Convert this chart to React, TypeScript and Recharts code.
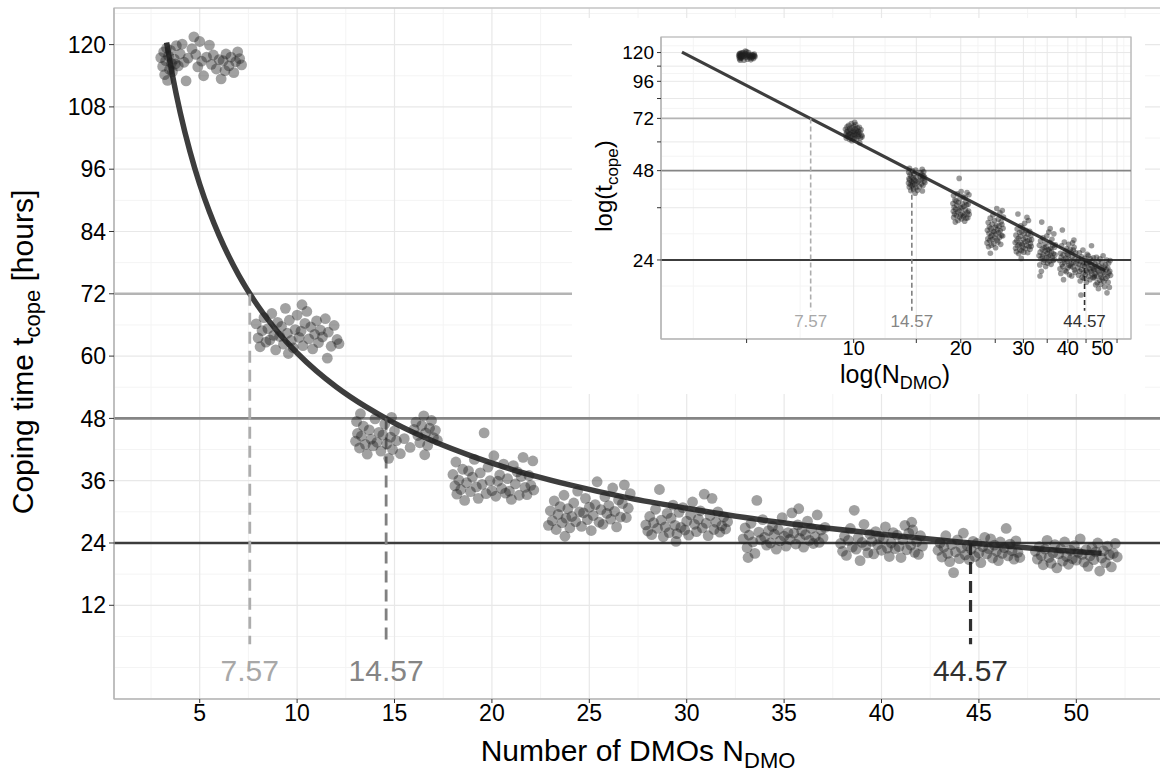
import React from 'react';
import {
  ComposedChart, Scatter, Line, XAxis, YAxis, CartesianGrid,
  ReferenceLine, ReferenceDot, ReferenceArea,
} from 'recharts';

// ---------- data ----------
const GROUP_N = [5, 10, 15, 20, 25, 30, 35, 40, 45, 50];

// [horizontal jitter, coping time] read from each cluster
const G5 = [[-2.0,117.5],[-1.9,115.8],[-1.85,118.6],[-1.8,114.2],[-1.75,116.9],[-1.7,119.3],[-1.65,113.1],[-1.6,117.8],[-1.55,115.2],[-1.5,118.9],[-1.45,116.4],[-1.4,114.8],[-1.3,117.2],[-1.2,119.8],[-1.1,115.9],[-1.0,118.2],[-0.9,120.1],[-0.8,116.6],[-0.7,113.0],[-0.6,117.4],[-0.4,119.2],[-0.3,121.5],[-0.2,118.1],[-0.1,115.7],[0.0,120.6],[0.1,116.8],[0.2,114.0],[0.35,117.6],[0.5,119.9],[0.6,116.2],[0.7,118.0],[0.85,115.3],[1.0,117.1],[1.1,113.4],[1.2,116.9],[1.35,118.2],[1.5,115.9],[1.6,117.6],[1.75,114.6],[1.85,116.7],[1.95,118.6],[2.05,117.3],[2.15,116.1],[1.3,115.0],[-1.25,116.3]];
const G10 = [[-2.1,66.2],[-2.0,63.5],[-1.9,61.8],[-1.8,64.9],[-1.7,67.4],[-1.6,62.7],[-1.5,65.3],[-1.4,63.1],[-1.3,68.2],[-1.2,64.0],[-1.1,61.2],[-1.0,66.5],[-0.9,63.8],[-0.8,65.7],[-0.7,62.3],[-0.6,69.2],[-0.5,64.4],[-0.4,66.9],[-0.3,63.0],[-0.2,61.6],[-0.1,65.1],[0.0,67.9],[0.1,63.6],[0.2,64.8],[0.3,62.0],[0.4,66.3],[0.5,68.6],[0.6,63.3],[0.7,65.6],[0.8,61.4],[0.9,64.2],[1.0,66.8],[1.1,62.6],[1.2,65.0],[1.3,63.7],[1.45,67.2],[1.6,64.6],[1.75,61.9],[1.9,65.9],[2.05,63.2],[2.15,62.4],[1.55,59.6],[-0.45,60.5],[0.25,69.9]];
const G15 = [[-2.0,43.6],[-1.95,47.4],[-1.9,45.1],[-1.8,42.3],[-1.7,44.6],[-1.6,46.5],[-1.5,43.0],[-1.4,41.1],[-1.3,45.8],[-1.2,44.0],[-1.1,42.7],[-1.0,47.9],[-0.9,43.4],[-0.8,45.3],[-0.7,41.7],[-0.6,44.8],[-0.5,46.9],[-0.4,43.1],[-0.3,40.3],[-0.2,44.4],[-0.1,42.0],[0.0,45.6],[0.1,43.7],[0.3,41.2],[0.5,44.1],[0.8,42.4],[1.0,45.9],[1.1,47.3],[1.2,44.7],[1.3,43.3],[1.4,46.6],[1.5,48.5],[1.6,45.2],[1.7,42.8],[1.8,46.1],[1.9,47.6],[2.0,44.3],[2.1,45.7],[2.2,43.8],[1.55,41.0],[-1.75,48.9],[-0.15,48.2]];
const G20 = [[-2.0,37.2],[-1.9,35.0],[-1.85,39.6],[-1.8,33.4],[-1.7,36.1],[-1.6,34.3],[-1.5,38.2],[-1.4,32.2],[-1.3,35.6],[-1.2,37.9],[-1.1,33.9],[-1.0,36.7],[-0.9,40.1],[-0.8,34.8],[-0.7,32.6],[-0.6,37.5],[-0.5,35.3],[-0.4,45.2],[-0.3,33.5],[-0.2,38.6],[-0.1,36.0],[0.0,34.1],[0.1,40.8],[0.2,33.0],[0.3,35.9],[0.4,37.1],[0.5,34.5],[0.6,39.2],[0.7,33.6],[0.8,36.4],[0.9,34.0],[1.0,32.4],[1.1,38.9],[1.2,35.4],[1.3,37.7],[1.4,33.2],[1.5,36.8],[1.6,40.5],[1.7,34.7],[1.8,33.3],[1.9,37.0],[2.0,35.1],[2.1,39.8],[2.15,34.2]];
const G25 = [[-2.1,27.4],[-2.0,30.2],[-1.9,28.3],[-1.8,32.1],[-1.7,26.6],[-1.6,29.5],[-1.5,31.0],[-1.4,27.9],[-1.3,33.2],[-1.2,28.8],[-1.1,30.6],[-1.0,26.9],[-0.9,29.1],[-0.8,31.7],[-0.7,28.1],[-0.6,34.0],[-0.5,30.0],[-0.4,27.2],[-0.3,29.8],[-0.2,32.6],[-0.1,28.5],[0.0,30.9],[0.1,26.4],[0.2,29.3],[0.3,31.4],[0.4,35.8],[0.5,28.0],[0.6,30.4],[0.7,27.6],[0.8,32.9],[0.9,29.7],[1.0,31.2],[1.1,28.6],[1.2,34.6],[1.3,30.1],[1.4,27.1],[1.5,32.3],[1.6,29.0],[1.7,31.6],[1.8,35.2],[1.9,28.9],[2.0,30.7],[2.1,33.5],[-1.25,25.3]];
const G30 = [[-2.1,27.5],[-2.0,26.3],[-1.9,29.1],[-1.8,25.6],[-1.7,27.9],[-1.6,30.5],[-1.5,26.8],[-1.4,34.3],[-1.3,28.4],[-1.2,25.2],[-1.1,27.1],[-1.0,29.7],[-0.9,26.0],[-0.8,28.8],[-0.7,31.3],[-0.6,27.4],[-0.5,25.8],[-0.4,29.9],[-0.3,27.0],[-0.2,30.8],[-0.1,26.5],[0.0,28.2],[0.1,25.5],[0.2,29.4],[0.3,31.9],[0.4,27.6],[0.5,26.2],[0.6,28.6],[0.7,30.2],[0.8,26.9],[0.9,33.4],[1.0,27.8],[1.1,25.4],[1.2,29.3],[1.3,32.6],[1.4,26.6],[1.5,28.0],[1.6,30.0],[1.7,26.1],[1.8,27.3],[1.9,29.0],[2.0,26.7],[2.1,28.1],[-0.55,24.3]];
const G35 = [[-2.1,24.8],[-2.0,26.9],[-1.9,23.1],[-1.8,25.5],[-1.7,27.8],[-1.6,24.2],[-1.5,22.0],[-1.4,32.2],[-1.3,26.1],[-1.2,24.6],[-1.1,28.5],[-1.0,25.1],[-0.9,23.6],[-0.8,26.4],[-0.7,24.0],[-0.6,27.2],[-0.5,25.7],[-0.4,22.8],[-0.3,26.6],[-0.2,24.4],[-0.1,28.9],[0.0,25.3],[0.1,23.4],[0.2,26.0],[0.3,24.7],[0.4,29.8],[0.5,25.9],[0.6,23.8],[0.7,27.5],[0.8,24.9],[0.9,26.3],[1.0,23.2],[1.1,25.6],[1.2,28.2],[1.3,24.5],[1.4,26.8],[1.5,23.9],[1.6,25.2],[1.7,29.4],[1.8,24.1],[1.9,26.5],[2.0,25.0],[2.1,27.0],[-1.85,21.2],[0.75,30.6]];
const G40 = [[-2.1,23.9],[-2.0,22.4],[-1.9,25.3],[-1.8,21.6],[-1.7,24.5],[-1.6,26.8],[-1.5,23.2],[-1.4,30.3],[-1.3,22.8],[-1.2,25.0],[-1.1,20.6],[-1.0,24.1],[-0.9,27.6],[-0.8,23.5],[-0.7,22.1],[-0.6,25.7],[-0.5,24.3],[-0.4,21.9],[-0.3,26.2],[-0.2,23.7],[-0.1,25.1],[0.0,22.6],[0.1,24.8],[0.2,27.1],[0.3,23.0],[0.4,21.4],[0.5,24.0],[0.6,26.0],[0.7,22.9],[0.8,25.5],[0.9,23.3],[1.0,21.2],[1.1,24.6],[1.2,27.4],[1.3,22.7],[1.4,25.9],[1.5,23.6],[1.6,26.5],[1.7,22.2],[1.8,24.2],[1.9,21.8],[2.0,25.4],[2.1,23.4],[1.55,28.0]];
const G45 = [[-2.1,22.6],[-2.0,24.0],[-1.9,21.3],[-1.8,23.2],[-1.7,25.4],[-1.6,22.0],[-1.5,20.4],[-1.4,23.7],[-1.3,18.3],[-1.2,22.3],[-1.1,24.6],[-1.0,21.0],[-0.9,23.0],[-0.8,25.9],[-0.7,21.7],[-0.6,23.5],[-0.5,20.8],[-0.4,22.8],[-0.3,24.3],[-0.2,21.4],[-0.1,23.9],[0.0,22.1],[0.1,20.2],[0.2,23.3],[0.3,25.1],[0.4,21.9],[0.5,22.9],[0.6,24.8],[0.7,21.1],[0.8,23.6],[0.9,22.4],[1.0,20.6],[1.1,24.2],[1.2,22.0],[1.3,23.1],[1.4,26.8],[1.5,21.5],[1.6,23.8],[1.7,22.5],[1.8,20.9],[1.9,24.4],[2.0,22.2],[2.1,21.2]];
const G50 = [[-2.1,22.4],[-2.0,20.9],[-1.9,23.3],[-1.8,21.6],[-1.7,19.8],[-1.6,22.8],[-1.5,24.5],[-1.4,21.2],[-1.3,20.1],[-1.2,22.1],[-1.1,23.7],[-1.0,19.2],[-0.9,21.9],[-0.8,22.9],[-0.7,20.5],[-0.6,24.2],[-0.5,21.4],[-0.4,19.9],[-0.3,22.6],[-0.2,21.0],[-0.1,23.5],[0.0,20.7],[0.1,22.2],[0.2,24.8],[0.3,21.8],[0.4,20.3],[0.5,22.7],[0.6,19.5],[0.7,21.5],[0.8,23.1],[0.9,20.8],[1.0,22.3],[1.1,24.0],[1.2,18.6],[1.3,21.1],[1.4,22.5],[1.5,20.2],[1.6,23.4],[1.7,21.7],[1.8,19.4],[1.9,22.0],[2.0,23.9],[2.1,21.3]];
const GROUP_POINTS = [G5, G10, G15, G20, G25, G30, G35, G40, G45, G50];

// fitted curve
const CURVE_N = [3.3, 3.6, 4, 4.5, 5, 5.5, 6, 7, 8, 9, 10, 11, 12, 13.5, 15, 17, 19, 21, 24, 27, 30, 33, 36, 40, 44, 48, 51.3];
const CURVE_T = [120.4, 114.1, 106.9, 99.4, 93.1, 87.8, 83.2, 75.6, 69.6, 64.7, 60.6, 57.1, 54.1, 50.3, 47.1, 43.6, 40.7, 38.2, 35.2, 32.7, 30.7, 28.9, 27.4, 25.7, 24.2, 22.9, 22.0];
// straight fit in the log-log inset
const INSET_LINE_N = [3.29, 50.9];
const INSET_LINE_T = [120.4, 22.1];

const THRESH_T = [72, 48, 24];
const THRESH_N = [7.57, 14.57, 44.57];
const THRESH_LABELS = ['7.57', '14.57', '44.57'];

const MAIN_X_TICKS = [5, 10, 15, 20, 25, 30, 35, 40, 45, 50];
const MAIN_X_MINOR = [2.5, 7.5, 12.5, 17.5, 22.5, 27.5, 32.5, 37.5, 42.5, 47.5, 52.5];
const MAIN_Y_TICKS = [12, 24, 36, 48, 60, 72, 84, 96, 108, 120];
const MAIN_Y_MINOR = [0, 6, 18, 30, 42, 54, 66, 78, 90, 102, 114, 126];
const INSET_X_TICKS = [5, 10, 15, 20, 25, 30, 35, 40, 45, 50, 55];
const INSET_X_LABELS = [10, 20, 30, 40, 50];
const INSET_X_MINOR = [3.54, 7.07, 12.25, 17.32, 22.36, 27.39, 32.4, 37.42, 42.43, 47.43, 52.44, 57.45];
const INSET_Y_TICKS = [24, 36, 48, 60, 72, 84, 96, 108, 120];
const INSET_Y_LABELS = [24, 48, 72, 96, 120];
const INSET_Y_MINOR = [19.6, 29.4, 41.6, 53.7, 65.7, 77.8, 89.9, 102.0, 114.0, 126.5];

// ---------- layout / style ----------
const MAIN_X_DOMAIN = [0.6, 54.45];
const MAIN_Y_DOMAIN = [-6.05, 127.05];
const INSET_X_DOMAIN = [2.873, 60.2];
const INSET_Y_DOMAIN = [13.0, 135.4];
const MAIN_DASH_END = 4.5;
const MAIN_LABEL_T = -0.6;
const INSET_DASH_END = 16.2;
const INSET_LABEL_T = 14.9;

const HLINE_COLORS = ['#b4b4b4', '#858585', '#3c3c3c'];
const VLINE_COLORS = ['#adadad', '#808080', '#303030'];
const LABEL_COLORS = ['#a8a8a8', '#858585', '#303030'];
const FONT = "'Liberation Sans', Arial, Helvetica, sans-serif";

const mainPts = GROUP_POINTS.flatMap((pts, gi) => pts.map(([dx, t]) => ({ x: GROUP_N[gi] + dx, y: t })));
const insetPts = GROUP_POINTS.flatMap((pts, gi) => pts.map(([dx, t]) => ({ x: GROUP_N[gi] * Math.pow(10, dx * 0.011), y: t })));
const curveData = CURVE_N.map((n, i) => ({ x: n, y: CURVE_T[i] }));
const insetLineData = INSET_LINE_N.map((n, i) => ({ x: n, y: INSET_LINE_T[i] }));

const MainDot = (p: any) => <circle cx={p.cx} cy={p.cy} r={5.4} fill="#1e1e1e" fillOpacity={0.42} />;
const InsetDot = (p: any) => <circle cx={p.cx} cy={p.cy} r={2.8} fill="#1e1e1e" fillOpacity={0.45} />;

const MainYTitle = () => (
  <text transform="rotate(-90, 33, 352)" x={33} y={352} textAnchor="middle" fontSize={30} fill="#000">
    Coping time t<tspan fontSize={22} dy={7}>cope</tspan><tspan dy={-7}> [hours]</tspan>
  </text>
);
const MainXTitle = () => (
  <text x={638} y={761} textAnchor="middle" fontSize={30} fill="#000">
    Number of DMOs N<tspan fontSize={22} dy={7}>DMO</tspan>
  </text>
);
const InsetYTitle = () => (
  <text transform="rotate(-90, 40, 168)" x={40} y={168} textAnchor="middle" fontSize={24} fill="#000">
    log(t<tspan fontSize={17} dy={6}>cope</tspan><tspan dy={-6}>)</tspan>
  </text>
);
const InsetXTitle = () => (
  <text x={323} y={365} textAnchor="middle" fontSize={25} fill="#000">
    log(N<tspan fontSize={18} dy={6}>DMO</tspan><tspan dy={-6}>)</tspan>
  </text>
);

function MainChart() {
  return (
    <ComposedChart width={1170} height={776} margin={{ top: 8, right: 7, left: 0, bottom: 0 }}>
      <XAxis xAxisId="minor" type="number" dataKey="x" domain={MAIN_X_DOMAIN} ticks={MAIN_X_MINOR} hide allowDataOverflow />
      <YAxis yAxisId="minor" type="number" dataKey="y" domain={MAIN_Y_DOMAIN} ticks={MAIN_Y_MINOR} hide allowDataOverflow />
      <CartesianGrid xAxisId="minor" yAxisId="minor" stroke="#f4f4f4" strokeWidth={1} />
      <CartesianGrid stroke="#e8e8e8" strokeWidth={1.2} />
      <XAxis
        type="number" dataKey="x" domain={MAIN_X_DOMAIN} ticks={MAIN_X_TICKS} interval={0} allowDataOverflow
        height={77} tickSize={4} tickMargin={2}
        tick={{ fill: '#000', fontSize: 23 }} tickLine={{ stroke: '#333' }} axisLine={{ stroke: '#b3b3b3' }}
        label={<MainXTitle />}
      />
      <YAxis
        type="number" dataKey="y" domain={MAIN_Y_DOMAIN} ticks={MAIN_Y_TICKS} interval={0} allowDataOverflow
        width={114} tickSize={5} tickMargin={3}
        tick={{ fill: '#000', fontSize: 23 }} tickLine={{ stroke: '#333' }} axisLine={{ stroke: '#b3b3b3' }}
        label={<MainYTitle />}
      />
      {THRESH_T.map((t, i) => (
        <ReferenceLine key={'h' + i} y={t} stroke={HLINE_COLORS[i]} strokeWidth={2.6} />
      ))}
      <Scatter data={mainPts} shape={<MainDot />} isAnimationActive={false} />
      <Line data={curveData} dataKey="y" type="monotone" dot={false} stroke="#3d3d3d" strokeWidth={5.5} isAnimationActive={false} />
      {THRESH_N.map((n, i) => (
        <ReferenceLine key={'v' + i} segment={[{ x: n, y: THRESH_T[i] }, { x: n, y: MAIN_DASH_END }]}
          stroke={VLINE_COLORS[i]} strokeWidth={i === 2 ? 3.2 : 2.8} strokeDasharray="12 7" />
      ))}
      {THRESH_N.map((n, i) => (
        <ReferenceDot key={'l' + i} x={n} y={MAIN_LABEL_T} r={0} fill="none" stroke="none"
          label={{ value: THRESH_LABELS[i], position: 'center', fill: LABEL_COLORS[i], fontSize: 30 }} />
      ))}
      <ReferenceArea x1={MAIN_X_DOMAIN[0]} x2={MAIN_X_DOMAIN[1]} y1={MAIN_Y_DOMAIN[0]} y2={MAIN_Y_DOMAIN[1]}
        fill="none" fillOpacity={0} stroke="#b3b3b3" strokeWidth={1.2} />
    </ComposedChart>
  );
}

function InsetChart() {
  return (
    <ComposedChart width={573} height={376} margin={{ top: 19, right: 14, left: 0, bottom: 0 }}>
      <XAxis xAxisId="minor" type="number" scale="log" dataKey="x" domain={INSET_X_DOMAIN} ticks={INSET_X_MINOR} hide allowDataOverflow />
      <YAxis yAxisId="minor" type="number" scale="log" dataKey="y" domain={INSET_Y_DOMAIN} ticks={INSET_Y_MINOR} hide allowDataOverflow />
      <CartesianGrid xAxisId="minor" yAxisId="minor" stroke="#f4f4f4" strokeWidth={1} />
      <CartesianGrid stroke="#e8e8e8" strokeWidth={1} />
      <XAxis
        type="number" scale="log" dataKey="x" domain={INSET_X_DOMAIN} ticks={INSET_X_TICKS} interval={0} allowDataOverflow
        height={55} tickSize={4} tickMargin={-2}
        tickFormatter={(v: number) => (INSET_X_LABELS.includes(v) ? String(v) : '')}
        tick={{ fill: '#000', fontSize: 20 }} tickLine={{ stroke: '#333' }} axisLine={{ stroke: '#b3b3b3' }}
        label={<InsetXTitle />}
      />
      <YAxis
        type="number" scale="log" dataKey="y" domain={INSET_Y_DOMAIN} ticks={INSET_Y_TICKS} interval={0} allowDataOverflow
        width={89} tickSize={4} tickMargin={3}
        tickFormatter={(v: number) => (INSET_Y_LABELS.includes(v) ? String(v) : '')}
        tick={{ fill: '#000', fontSize: 19 }} tickLine={{ stroke: '#333' }} axisLine={{ stroke: '#b3b3b3' }}
        label={<InsetYTitle />}
      />
      {THRESH_T.map((t, i) => (
        <ReferenceLine key={'h' + i} y={t} stroke={HLINE_COLORS[i]} strokeWidth={1.8} />
      ))}
      <Scatter data={insetPts} shape={<InsetDot />} isAnimationActive={false} />
      <Line data={insetLineData} dataKey="y" type="linear" dot={false} stroke="#3d3d3d" strokeWidth={3.2} isAnimationActive={false} />
      {THRESH_N.map((n, i) => (
        <ReferenceLine key={'v' + i} segment={[{ x: n, y: THRESH_T[i] }, { x: n, y: INSET_DASH_END }]}
          stroke={VLINE_COLORS[i]} strokeWidth={1.6} strokeDasharray="5 3" />
      ))}
      {THRESH_N.map((n, i) => (
        <ReferenceDot key={'l' + i} x={n} y={INSET_LABEL_T} r={0} fill="none" stroke="none"
          label={{ value: THRESH_LABELS[i], position: 'center', fill: LABEL_COLORS[i], fontSize: 17 }} />
      ))}
      <ReferenceArea x1={INSET_X_DOMAIN[0]} x2={INSET_X_DOMAIN[1]} y1={INSET_Y_DOMAIN[0]} y2={INSET_Y_DOMAIN[1]}
        fill="none" fillOpacity={0} stroke="#b3b3b3" strokeWidth={1.2} />
    </ComposedChart>
  );
}

export default function App() {
  return (
    <div style={{ position: 'absolute', left: 0, top: 0, width: 1160, height: 776, overflow: 'hidden', background: '#fff', fontFamily: FONT }}>
      <div style={{ position: 'absolute', left: 0, top: 0 }}>
        <MainChart />
      </div>
      <div style={{ position: 'absolute', left: 572, top: 18, width: 573, height: 376, background: '#fff' }}>
        <InsetChart />
      </div>
    </div>
  );
}
